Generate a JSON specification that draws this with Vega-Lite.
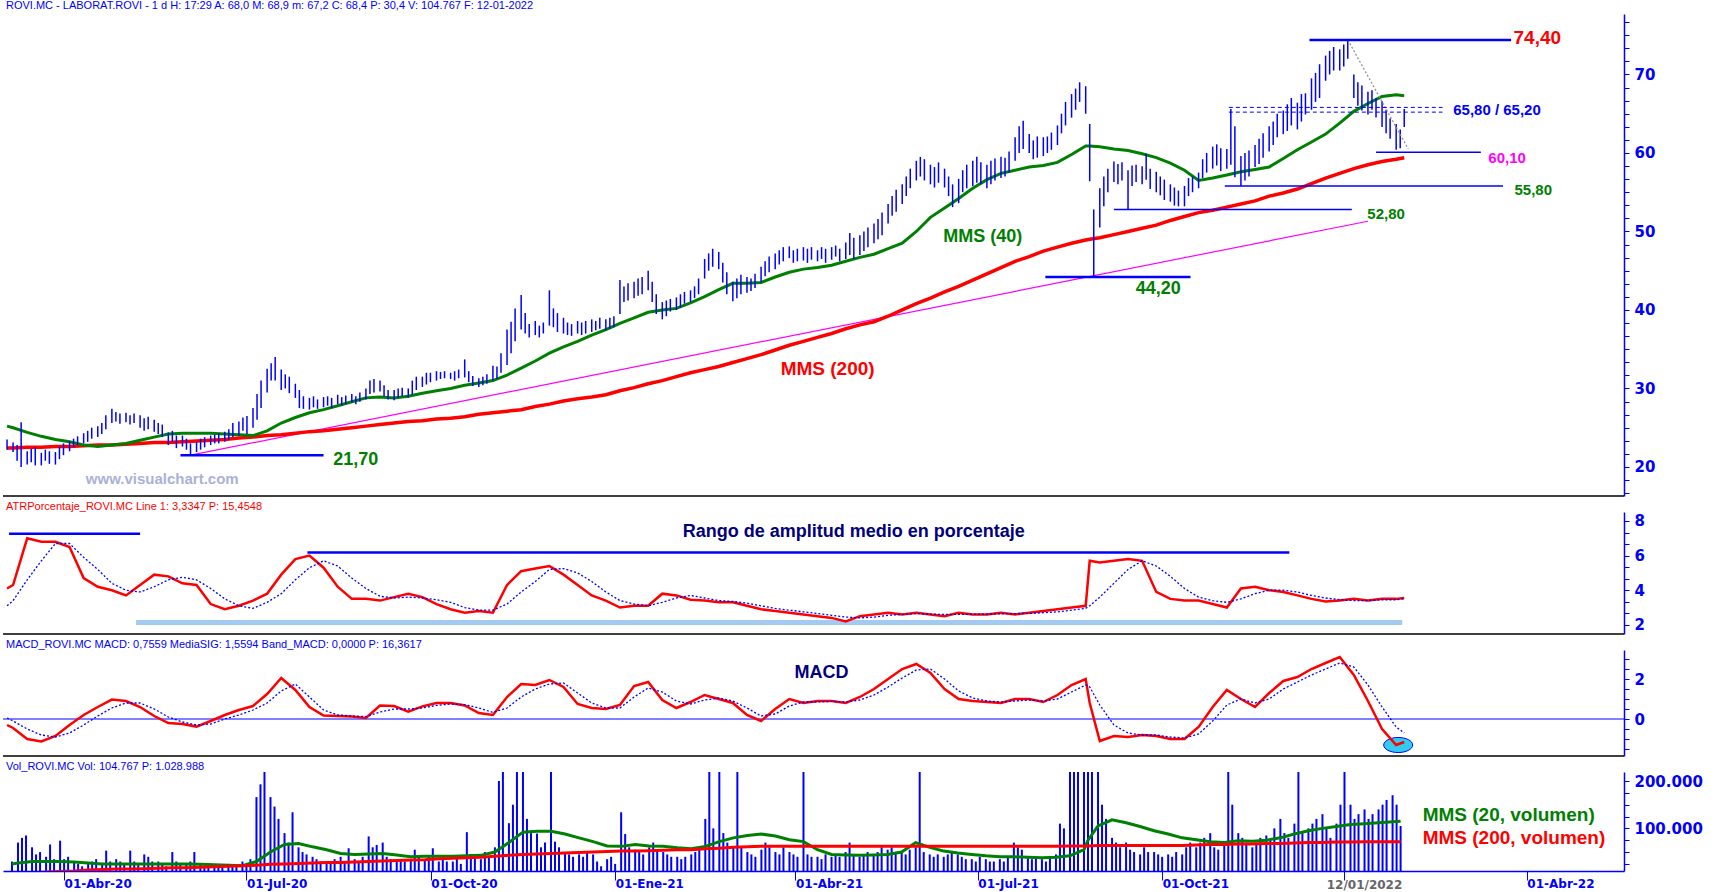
{
"$schema":"https://vega.github.io/schema/vega-lite/v6.json",
"padding":0,
"background":"white",
"spacing":16,
"bounds":"flush",
"config":{
 "view":{"stroke":null},
 "title":{"anchor":"start","font":"Liberation Sans Narrow, Liberation Sans","fontSize":11,"fontWeight":"normal","offset":3,"dx":3,"frame":"group"},
 "axisY":{"domainColor":"#0000ff","domainWidth":1.5,"tickColor":"#0000ff","tickSize":5,"labelColor":"#0000ff","labelFont":"DejaVu Sans","labelFontWeight":"bold","labelFontSize":15,"labelPadding":5,"grid":false,"labelFlush":false,"labelOverlap":false,"labelBaseline":"middle"}
},
"datasets":{
"px":[
{"d":"2020-03-06","h":23.5,"l":22.2,"v":30},
{"d":"2020-03-09","h":23.1,"l":21.9,"v":70},{"d":"2020-03-11","h":22.8,"l":20.8,"v":80},{"d":"2020-03-13","h":25.7,"l":20.0,"v":85},
{"d":"2020-03-16","h":22.0,"l":20.3,"v":60},{"d":"2020-03-18","h":22.3,"l":20.6,"v":45},{"d":"2020-03-20","h":22.5,"l":20.2,"v":50},
{"d":"2020-03-23","h":21.8,"l":20.2,"v":40},{"d":"2020-03-25","h":22.2,"l":20.8,"v":66},{"d":"2020-03-27","h":22.0,"l":20.4,"v":35},
{"d":"2020-03-30","h":21.9,"l":20.3,"v":74},{"d":"2020-04-01","h":22.6,"l":21.0,"v":35},{"d":"2020-04-03","h":23.0,"l":21.5,"v":40},
{"d":"2020-04-06","h":23.3,"l":22.0,"v":30},{"d":"2020-04-08","h":23.6,"l":22.5,"v":25},{"d":"2020-04-10","h":23.9,"l":22.8,"v":20},
{"d":"2020-04-13","h":24.3,"l":23.0,"v":25},{"d":"2020-04-15","h":24.6,"l":23.2,"v":30},{"d":"2020-04-17","h":25.0,"l":23.6,"v":35},
{"d":"2020-04-20","h":25.2,"l":23.8,"v":25},{"d":"2020-04-22","h":25.6,"l":24.2,"v":53},{"d":"2020-04-24","h":26.6,"l":24.8,"v":30},
{"d":"2020-04-27","h":27.4,"l":25.6,"v":35},{"d":"2020-04-29","h":27.0,"l":25.8,"v":30},{"d":"2020-05-01","h":26.8,"l":25.5,"v":25},
{"d":"2020-05-04","h":26.9,"l":25.7,"v":53},{"d":"2020-05-06","h":26.6,"l":25.4,"v":30},{"d":"2020-05-08","h":26.8,"l":25.6,"v":25},
{"d":"2020-05-11","h":26.6,"l":25.0,"v":45},{"d":"2020-05-13","h":26.2,"l":24.6,"v":40},{"d":"2020-05-15","h":26.4,"l":24.8,"v":30},
{"d":"2020-05-18","h":26.0,"l":24.5,"v":30},{"d":"2020-05-20","h":25.6,"l":24.2,"v":25},{"d":"2020-05-22","h":25.4,"l":23.8,"v":20},
{"d":"2020-05-25","h":24.4,"l":22.8,"v":50},{"d":"2020-05-27","h":24.6,"l":23.2,"v":30},{"d":"2020-05-29","h":24.0,"l":22.4,"v":25},
{"d":"2020-06-01","h":24.0,"l":22.6,"v":25},{"d":"2020-06-03","h":23.6,"l":22.2,"v":30},{"d":"2020-06-05","h":23.0,"l":21.6,"v":50},
{"d":"2020-06-08","h":23.2,"l":21.9,"v":25},{"d":"2020-06-10","h":23.6,"l":22.2,"v":20},{"d":"2020-06-12","h":23.8,"l":22.5,"v":20},
{"d":"2020-06-15","h":24.0,"l":22.8,"v":20},{"d":"2020-06-17","h":24.1,"l":23.0,"v":25},{"d":"2020-06-19","h":24.3,"l":23.0,"v":20},
{"d":"2020-06-22","h":24.5,"l":23.2,"v":25},{"d":"2020-06-24","h":24.8,"l":23.5,"v":20},{"d":"2020-06-26","h":25.6,"l":23.8,"v":20},
{"d":"2020-06-29","h":25.8,"l":24.0,"v":30},{"d":"2020-07-01","h":26.3,"l":24.6,"v":25},{"d":"2020-07-03","h":26.5,"l":24.2,"v":35},
{"d":"2020-07-06","h":27.5,"l":25.0,"v":166},{"d":"2020-07-08","h":29.3,"l":26.0,"v":193},{"d":"2020-07-10","h":31.0,"l":27.5,"v":230},
{"d":"2020-07-13","h":32.5,"l":29.5,"v":166},{"d":"2020-07-15","h":33.2,"l":31.0,"v":146},{"d":"2020-07-17","h":34.0,"l":31.0,"v":120},
{"d":"2020-07-20","h":32.4,"l":29.8,"v":90},{"d":"2020-07-22","h":31.8,"l":30.0,"v":70},{"d":"2020-07-24","h":31.5,"l":29.4,"v":134},
{"d":"2020-07-27","h":30.6,"l":28.8,"v":60},{"d":"2020-07-29","h":29.8,"l":27.5,"v":50},{"d":"2020-07-31","h":29.0,"l":27.4,"v":45},
{"d":"2020-08-03","h":28.8,"l":27.3,"v":40},{"d":"2020-08-05","h":29.0,"l":27.6,"v":35},{"d":"2020-08-07","h":28.6,"l":27.4,"v":30},
{"d":"2020-08-10","h":28.9,"l":27.6,"v":30},{"d":"2020-08-12","h":29.0,"l":27.8,"v":25},{"d":"2020-08-14","h":28.8,"l":27.5,"v":35},
{"d":"2020-08-17","h":29.2,"l":28.0,"v":40},{"d":"2020-08-19","h":28.9,"l":27.8,"v":30},{"d":"2020-08-21","h":29.1,"l":28.0,"v":58},
{"d":"2020-08-24","h":29.3,"l":28.2,"v":35},{"d":"2020-08-26","h":29.0,"l":28.0,"v":30},{"d":"2020-08-28","h":29.5,"l":28.3,"v":40},
{"d":"2020-08-31","h":30.0,"l":28.6,"v":83},{"d":"2020-09-02","h":31.0,"l":29.3,"v":60},{"d":"2020-09-04","h":31.2,"l":29.5,"v":65},
{"d":"2020-09-07","h":31.0,"l":29.6,"v":70},{"d":"2020-09-09","h":30.4,"l":29.0,"v":40},{"d":"2020-09-11","h":29.8,"l":28.6,"v":35},
{"d":"2020-09-14","h":29.8,"l":28.5,"v":30},{"d":"2020-09-16","h":30.0,"l":28.8,"v":35},{"d":"2020-09-18","h":30.1,"l":29.0,"v":30},
{"d":"2020-09-21","h":30.0,"l":28.8,"v":35},{"d":"2020-09-23","h":31.0,"l":29.2,"v":55},{"d":"2020-09-25","h":31.5,"l":29.8,"v":40},
{"d":"2020-09-28","h":31.5,"l":30.2,"v":35},{"d":"2020-09-30","h":32.0,"l":30.5,"v":40},{"d":"2020-10-02","h":32.0,"l":30.8,"v":58},
{"d":"2020-10-05","h":32.2,"l":31.0,"v":30},{"d":"2020-10-07","h":32.1,"l":31.2,"v":35},{"d":"2020-10-09","h":32.2,"l":31.3,"v":30},
{"d":"2020-10-12","h":32.0,"l":31.2,"v":30},{"d":"2020-10-14","h":32.2,"l":31.0,"v":40},{"d":"2020-10-16","h":32.4,"l":31.3,"v":25},
{"d":"2020-10-19","h":33.7,"l":31.4,"v":92},{"d":"2020-10-21","h":32.2,"l":30.8,"v":45},{"d":"2020-10-23","h":31.6,"l":30.3,"v":40},
{"d":"2020-10-26","h":31.3,"l":30.2,"v":35},{"d":"2020-10-28","h":31.5,"l":30.4,"v":50},{"d":"2020-10-30","h":31.8,"l":30.6,"v":40},
{"d":"2020-11-02","h":32.9,"l":31.0,"v":60},{"d":"2020-11-04","h":32.8,"l":31.2,"v":200},{"d":"2020-11-06","h":34.5,"l":32.0,"v":219},
{"d":"2020-11-09","h":37.5,"l":33.0,"v":111},{"d":"2020-11-11","h":38.5,"l":34.5,"v":150},{"d":"2020-11-13","h":40.2,"l":36.0,"v":230},
{"d":"2020-11-16","h":41.9,"l":37.5,"v":230},{"d":"2020-11-18","h":39.6,"l":37.0,"v":120},{"d":"2020-11-20","h":38.2,"l":36.5,"v":90},
{"d":"2020-11-23","h":38.6,"l":36.8,"v":89},{"d":"2020-11-25","h":38.0,"l":36.5,"v":60},{"d":"2020-11-27","h":38.4,"l":37.0,"v":70},
{"d":"2020-11-30","h":42.5,"l":38.0,"v":230},{"d":"2020-12-02","h":40.2,"l":37.8,"v":72},{"d":"2020-12-04","h":39.6,"l":37.2,"v":60},
{"d":"2020-12-07","h":39.0,"l":37.0,"v":50},{"d":"2020-12-09","h":38.4,"l":36.8,"v":45},{"d":"2020-12-11","h":38.2,"l":36.7,"v":40},
{"d":"2020-12-14","h":38.6,"l":37.0,"v":45},{"d":"2020-12-16","h":38.4,"l":36.8,"v":40},{"d":"2020-12-18","h":38.6,"l":37.0,"v":50},
{"d":"2020-12-21","h":38.8,"l":37.2,"v":45},{"d":"2020-12-23","h":38.6,"l":37.4,"v":30},{"d":"2020-12-25","h":39.0,"l":37.6,"v":20},
{"d":"2020-12-28","h":38.8,"l":37.4,"v":35},{"d":"2020-12-30","h":39.0,"l":37.6,"v":40},{"d":"2021-01-01","h":39.2,"l":37.8,"v":25},
{"d":"2021-01-04","h":43.8,"l":39.5,"v":134},{"d":"2021-01-06","h":43.0,"l":41.0,"v":88},{"d":"2021-01-08","h":43.4,"l":41.2,"v":60},
{"d":"2021-01-11","h":43.6,"l":41.5,"v":55},{"d":"2021-01-13","h":44.0,"l":41.8,"v":50},{"d":"2021-01-15","h":44.2,"l":42.0,"v":45},
{"d":"2021-01-18","h":45.0,"l":42.5,"v":60},{"d":"2021-01-20","h":43.6,"l":41.0,"v":70},{"d":"2021-01-22","h":42.0,"l":39.5,"v":55},
{"d":"2021-01-25","h":41.0,"l":38.8,"v":50},{"d":"2021-01-27","h":41.2,"l":39.2,"v":45},{"d":"2021-01-29","h":41.4,"l":39.8,"v":40},
{"d":"2021-02-01","h":41.6,"l":40.0,"v":40},{"d":"2021-02-03","h":42.0,"l":40.3,"v":35},{"d":"2021-02-05","h":42.3,"l":40.8,"v":40},
{"d":"2021-02-08","h":42.5,"l":41.0,"v":45},{"d":"2021-02-10","h":43.0,"l":41.5,"v":50},{"d":"2021-02-12","h":44.0,"l":42.0,"v":60},
{"d":"2021-02-15","h":46.5,"l":44.0,"v":120},{"d":"2021-02-17","h":47.2,"l":45.0,"v":230},{"d":"2021-02-19","h":47.8,"l":45.5,"v":100},
{"d":"2021-02-22","h":47.4,"l":45.2,"v":230},{"d":"2021-02-24","h":46.0,"l":43.5,"v":90},{"d":"2021-02-26","h":44.8,"l":42.0,"v":70},
{"d":"2021-03-01","h":43.6,"l":41.1,"v":60},{"d":"2021-03-03","h":44.0,"l":41.5,"v":230},{"d":"2021-03-05","h":44.5,"l":42.0,"v":60},
{"d":"2021-03-08","h":44.2,"l":42.2,"v":50},{"d":"2021-03-10","h":44.0,"l":42.4,"v":45},{"d":"2021-03-12","h":44.6,"l":42.8,"v":40},
{"d":"2021-03-15","h":45.5,"l":43.5,"v":55},{"d":"2021-03-17","h":46.2,"l":44.3,"v":70},{"d":"2021-03-19","h":46.8,"l":44.8,"v":60},
{"d":"2021-03-22","h":47.2,"l":45.2,"v":50},{"d":"2021-03-24","h":47.6,"l":45.8,"v":45},{"d":"2021-03-26","h":48.0,"l":46.2,"v":60},
{"d":"2021-03-29","h":48.1,"l":46.6,"v":50},{"d":"2021-03-31","h":47.6,"l":46.0,"v":45},{"d":"2021-04-02","h":47.8,"l":46.2,"v":40},
{"d":"2021-04-05","h":48.0,"l":46.3,"v":230},{"d":"2021-04-07","h":47.8,"l":46.0,"v":45},{"d":"2021-04-09","h":48.0,"l":46.4,"v":40},
{"d":"2021-04-12","h":47.6,"l":46.2,"v":40},{"d":"2021-04-14","h":48.0,"l":46.5,"v":35},{"d":"2021-04-16","h":47.8,"l":46.0,"v":45},
{"d":"2021-04-19","h":48.0,"l":46.4,"v":40},{"d":"2021-04-21","h":48.2,"l":46.8,"v":45},{"d":"2021-04-23","h":47.8,"l":46.2,"v":40},
{"d":"2021-04-26","h":48.6,"l":46.5,"v":50},{"d":"2021-04-28","h":49.8,"l":47.0,"v":70},{"d":"2021-04-30","h":49.2,"l":46.5,"v":45},
{"d":"2021-05-03","h":49.5,"l":47.0,"v":40},{"d":"2021-05-05","h":50.0,"l":47.5,"v":45},{"d":"2021-05-07","h":50.5,"l":48.0,"v":50},
{"d":"2021-05-10","h":51.0,"l":48.5,"v":45},{"d":"2021-05-12","h":51.6,"l":49.0,"v":50},{"d":"2021-05-14","h":52.4,"l":49.5,"v":60},
{"d":"2021-05-17","h":53.5,"l":51.0,"v":55},{"d":"2021-05-19","h":54.5,"l":52.0,"v":60},{"d":"2021-05-21","h":55.3,"l":52.5,"v":50},
{"d":"2021-05-24","h":56.0,"l":53.5,"v":50},{"d":"2021-05-26","h":57.0,"l":54.5,"v":45},{"d":"2021-05-28","h":58.0,"l":55.5,"v":55},
{"d":"2021-05-31","h":59.0,"l":56.5,"v":60},{"d":"2021-06-02","h":59.5,"l":57.0,"v":230},{"d":"2021-06-04","h":59.2,"l":56.5,"v":50},
{"d":"2021-06-07","h":58.5,"l":56.0,"v":45},{"d":"2021-06-09","h":58.2,"l":55.6,"v":40},{"d":"2021-06-11","h":58.8,"l":56.2,"v":45},
{"d":"2021-06-14","h":58.0,"l":55.6,"v":40},{"d":"2021-06-16","h":57.0,"l":54.5,"v":45},{"d":"2021-06-18","h":56.0,"l":53.1,"v":50},
{"d":"2021-06-21","h":56.7,"l":53.6,"v":45},{"d":"2021-06-23","h":57.8,"l":55.0,"v":40},{"d":"2021-06-25","h":58.5,"l":55.5,"v":35},
{"d":"2021-06-28","h":59.0,"l":55.8,"v":35},{"d":"2021-06-30","h":59.5,"l":56.2,"v":30},{"d":"2021-07-02","h":58.8,"l":56.0,"v":40},
{"d":"2021-07-05","h":58.5,"l":55.5,"v":35},{"d":"2021-07-07","h":59.0,"l":56.0,"v":30},{"d":"2021-07-09","h":59.3,"l":56.5,"v":30},
{"d":"2021-07-12","h":59.5,"l":56.8,"v":35},{"d":"2021-07-14","h":59.4,"l":57.0,"v":30},{"d":"2021-07-16","h":60.2,"l":57.5,"v":40},
{"d":"2021-07-19","h":62.0,"l":59.0,"v":70},{"d":"2021-07-21","h":63.4,"l":60.0,"v":60},{"d":"2021-07-23","h":64.1,"l":60.5,"v":55},
{"d":"2021-07-26","h":62.4,"l":60.0,"v":40},{"d":"2021-07-28","h":61.6,"l":59.2,"v":35},{"d":"2021-07-30","h":62.1,"l":59.4,"v":40},
{"d":"2021-08-02","h":62.0,"l":59.6,"v":35},{"d":"2021-08-04","h":62.1,"l":60.0,"v":30},{"d":"2021-08-06","h":62.6,"l":60.4,"v":40},
{"d":"2021-08-09","h":63.5,"l":61.0,"v":45},{"d":"2021-08-11","h":65.0,"l":62.5,"v":110},{"d":"2021-08-13","h":66.5,"l":63.5,"v":100},
{"d":"2021-08-16","h":67.5,"l":64.5,"v":230},{"d":"2021-08-18","h":68.2,"l":65.5,"v":230},{"d":"2021-08-20","h":69.0,"l":66.5,"v":230},
{"d":"2021-08-23","h":68.5,"l":65.0,"v":230},{"d":"2021-08-25","h":63.7,"l":56.4,"v":230},{"d":"2021-08-27","h":52.8,"l":44.2,"v":230},
{"d":"2021-08-30","h":55.5,"l":50.5,"v":230},{"d":"2021-09-01","h":57.0,"l":53.2,"v":150},{"d":"2021-09-03","h":58.0,"l":55.0,"v":120},
{"d":"2021-09-06","h":58.9,"l":56.3,"v":80},{"d":"2021-09-08","h":58.6,"l":56.0,"v":70},{"d":"2021-09-10","h":58.8,"l":56.5,"v":60},
{"d":"2021-09-13","h":57.8,"l":52.8,"v":70},{"d":"2021-09-15","h":58.4,"l":55.8,"v":55},{"d":"2021-09-17","h":58.5,"l":56.3,"v":50},
{"d":"2021-09-20","h":58.3,"l":56.0,"v":45},{"d":"2021-09-22","h":59.9,"l":56.6,"v":60},{"d":"2021-09-24","h":58.0,"l":55.4,"v":50},
{"d":"2021-09-27","h":57.6,"l":55.0,"v":50},{"d":"2021-09-29","h":57.0,"l":54.6,"v":45},{"d":"2021-10-01","h":56.6,"l":54.0,"v":40},
{"d":"2021-10-04","h":56.0,"l":53.8,"v":45},{"d":"2021-10-06","h":55.6,"l":53.3,"v":40},{"d":"2021-10-08","h":55.2,"l":53.2,"v":50},
{"d":"2021-10-11","h":55.8,"l":53.2,"v":45},{"d":"2021-10-13","h":56.8,"l":54.5,"v":60},{"d":"2021-10-15","h":57.0,"l":55.0,"v":70},
{"d":"2021-10-18","h":57.5,"l":55.5,"v":60},{"d":"2021-10-20","h":59.2,"l":56.8,"v":70},{"d":"2021-10-22","h":60.0,"l":57.5,"v":80},
{"d":"2021-10-25","h":60.8,"l":58.0,"v":90},{"d":"2021-10-27","h":61.1,"l":58.4,"v":60},{"d":"2021-10-29","h":60.6,"l":57.7,"v":55},
{"d":"2021-11-01","h":60.5,"l":58.0,"v":70},{"d":"2021-11-03","h":65.6,"l":58.5,"v":230},{"d":"2021-11-05","h":63.4,"l":56.9,"v":150},
{"d":"2021-11-08","h":59.6,"l":55.8,"v":90},{"d":"2021-11-10","h":60.0,"l":56.5,"v":80},{"d":"2021-11-12","h":60.3,"l":57.0,"v":70},
{"d":"2021-11-15","h":61.0,"l":58.2,"v":60},{"d":"2021-11-17","h":61.8,"l":58.6,"v":70},{"d":"2021-11-19","h":62.5,"l":59.4,"v":80},
{"d":"2021-11-22","h":63.4,"l":60.2,"v":85},{"d":"2021-11-24","h":64.0,"l":61.0,"v":75},{"d":"2021-11-26","h":65.0,"l":62.0,"v":100},
{"d":"2021-11-29","h":65.4,"l":62.4,"v":120},{"d":"2021-12-01","h":66.2,"l":62.8,"v":90},{"d":"2021-12-03","h":67.0,"l":63.5,"v":80},
{"d":"2021-12-06","h":66.4,"l":63.0,"v":110},{"d":"2021-12-08","h":67.5,"l":64.0,"v":230},{"d":"2021-12-10","h":67.6,"l":64.9,"v":90},
{"d":"2021-12-13","h":69.5,"l":65.5,"v":100},{"d":"2021-12-15","h":70.2,"l":66.5,"v":110},{"d":"2021-12-17","h":71.3,"l":67.0,"v":120},
{"d":"2021-12-20","h":72.4,"l":69.2,"v":130},{"d":"2021-12-22","h":73.0,"l":70.0,"v":100},{"d":"2021-12-24","h":73.5,"l":70.5,"v":80},
{"d":"2021-12-27","h":73.2,"l":70.5,"v":110},{"d":"2021-12-29","h":73.8,"l":71.0,"v":150},{"d":"2021-12-31","h":74.4,"l":72.0,"v":230},
{"d":"2022-01-03","h":70.0,"l":67.0,"v":150},{"d":"2022-01-05","h":69.0,"l":66.0,"v":120},{"d":"2022-01-07","h":68.6,"l":65.4,"v":130},
{"d":"2022-01-10","h":67.8,"l":64.9,"v":140},{"d":"2022-01-12","h":68.0,"l":65.5,"v":120},{"d":"2022-01-14","h":67.0,"l":64.5,"v":130},
{"d":"2022-01-17","h":66.6,"l":63.3,"v":140},{"d":"2022-01-19","h":65.5,"l":62.5,"v":150},{"d":"2022-01-21","h":64.4,"l":61.8,"v":160},
{"d":"2022-01-24","h":63.7,"l":60.4,"v":170},{"d":"2022-01-26","h":63.0,"l":60.6,"v":150},{"d":"2022-01-28","h":65.6,"l":63.3,"v":105}
],
"ind":[
{"d":"2020-03-06","a40":25.2,"a200":22.4,"at":4.1,"as":3.1,"mc":-0.3,"sg":0.05,"v20":25,"v200":4},
{"d":"2020-03-09","a40":25.0,"a200":22.4,"at":4.3,"as":3.4,"mc":-0.45,"sg":-0.1,"v20":27,"v200":5},
{"d":"2020-03-16","a40":24.4,"a200":22.5,"at":7.0,"as":4.6,"mc":-1.0,"sg":-0.5,"v20":30,"v200":6},
{"d":"2020-03-23","a40":23.9,"a200":22.5,"at":6.8,"as":5.7,"mc":-1.12,"sg":-0.8,"v20":30,"v200":8},
{"d":"2020-03-30","a40":23.5,"a200":22.6,"at":6.8,"as":6.7,"mc":-0.85,"sg":-0.9,"v20":30,"v200":9},
{"d":"2020-04-06","a40":23.2,"a200":22.6,"at":6.5,"as":6.7,"mc":-0.3,"sg":-0.7,"v20":29,"v200":10},
{"d":"2020-04-13","a40":22.8,"a200":22.7,"at":4.7,"as":5.9,"mc":0.2,"sg":-0.3,"v20":27,"v200":12},
{"d":"2020-04-20","a40":22.6,"a200":22.8,"at":4.2,"as":5.2,"mc":0.6,"sg":0.15,"v20":25,"v200":13},
{"d":"2020-04-27","a40":22.8,"a200":22.8,"at":4.0,"as":4.4,"mc":0.97,"sg":0.55,"v20":25,"v200":14},
{"d":"2020-05-04","a40":23.0,"a200":22.9,"at":3.7,"as":4.0,"mc":0.9,"sg":0.8,"v20":25,"v200":14},
{"d":"2020-05-11","a40":23.4,"a200":23.0,"at":4.3,"as":3.9,"mc":0.6,"sg":0.8,"v20":25,"v200":15},
{"d":"2020-05-18","a40":23.8,"a200":23.1,"at":4.9,"as":4.2,"mc":0.15,"sg":0.5,"v20":25,"v200":16},
{"d":"2020-05-25","a40":24.2,"a200":23.1,"at":4.8,"as":4.6,"mc":-0.2,"sg":0.1,"v20":25,"v200":17},
{"d":"2020-06-01","a40":24.3,"a200":23.2,"at":4.4,"as":4.75,"mc":-0.25,"sg":-0.15,"v20":25,"v200":17},
{"d":"2020-06-08","a40":24.3,"a200":23.3,"at":4.3,"as":4.6,"mc":-0.38,"sg":-0.3,"v20":24,"v200":18},
{"d":"2020-06-15","a40":24.3,"a200":23.4,"at":3.2,"as":4.1,"mc":-0.1,"sg":-0.25,"v20":23,"v200":19},
{"d":"2020-06-22","a40":24.2,"a200":23.5,"at":2.9,"as":3.5,"mc":0.2,"sg":0.0,"v20":22,"v200":20},
{"d":"2020-06-29","a40":24.1,"a200":23.7,"at":3.1,"as":3.1,"mc":0.45,"sg":0.2,"v20":21,"v200":21},
{"d":"2020-07-06","a40":24.0,"a200":23.8,"at":3.4,"as":2.95,"mc":0.65,"sg":0.45,"v20":30,"v200":22},
{"d":"2020-07-13","a40":24.6,"a200":24.0,"at":3.8,"as":3.3,"mc":1.25,"sg":0.8,"v20":50,"v200":24},
{"d":"2020-07-20","a40":25.6,"a200":24.1,"at":4.9,"as":3.8,"mc":2.05,"sg":1.4,"v20":66,"v200":25},
{"d":"2020-07-27","a40":26.3,"a200":24.3,"at":5.8,"as":4.6,"mc":1.45,"sg":1.75,"v20":68,"v200":26},
{"d":"2020-08-03","a40":26.9,"a200":24.5,"at":6.0,"as":5.3,"mc":0.6,"sg":1.1,"v20":61,"v200":27},
{"d":"2020-08-10","a40":27.3,"a200":24.6,"at":5.3,"as":5.7,"mc":0.17,"sg":0.45,"v20":55,"v200":28},
{"d":"2020-08-17","a40":27.8,"a200":24.8,"at":4.2,"as":5.4,"mc":0.15,"sg":0.2,"v20":47,"v200":28},
{"d":"2020-08-24","a40":28.3,"a200":25.0,"at":3.5,"as":4.7,"mc":0.12,"sg":0.15,"v20":45,"v200":29},
{"d":"2020-08-31","a40":28.8,"a200":25.2,"at":3.5,"as":4.1,"mc":0.05,"sg":0.12,"v20":46,"v200":30},
{"d":"2020-09-07","a40":28.9,"a200":25.4,"at":3.4,"as":3.65,"mc":0.67,"sg":0.35,"v20":47,"v200":31},
{"d":"2020-09-14","a40":28.8,"a200":25.6,"at":3.6,"as":3.55,"mc":0.65,"sg":0.5,"v20":44,"v200":32},
{"d":"2020-09-21","a40":29.0,"a200":25.8,"at":3.8,"as":3.6,"mc":0.37,"sg":0.5,"v20":40,"v200":33},
{"d":"2020-09-28","a40":29.4,"a200":25.9,"at":3.6,"as":3.55,"mc":0.63,"sg":0.55,"v20":41,"v200":34},
{"d":"2020-10-05","a40":29.7,"a200":26.1,"at":3.2,"as":3.45,"mc":0.8,"sg":0.68,"v20":41,"v200":36},
{"d":"2020-10-12","a40":30.0,"a200":26.2,"at":2.9,"as":3.3,"mc":0.8,"sg":0.75,"v20":41,"v200":37},
{"d":"2020-10-19","a40":30.4,"a200":26.4,"at":2.7,"as":3.0,"mc":0.68,"sg":0.72,"v20":42,"v200":38},
{"d":"2020-10-26","a40":30.7,"a200":26.7,"at":2.8,"as":2.85,"mc":0.3,"sg":0.55,"v20":43,"v200":39},
{"d":"2020-11-02","a40":31.0,"a200":26.9,"at":2.7,"as":2.85,"mc":0.2,"sg":0.33,"v20":50,"v200":41},
{"d":"2020-11-09","a40":31.7,"a200":27.1,"at":4.3,"as":3.2,"mc":1.1,"sg":0.55,"v20":70,"v200":43},
{"d":"2020-11-16","a40":32.6,"a200":27.3,"at":5.1,"as":3.9,"mc":1.75,"sg":1.1,"v20":92,"v200":45},
{"d":"2020-11-23","a40":33.5,"a200":27.7,"at":5.25,"as":4.5,"mc":1.7,"sg":1.5,"v20":94,"v200":46},
{"d":"2020-11-30","a40":34.5,"a200":28.0,"at":5.4,"as":5.2,"mc":1.95,"sg":1.75,"v20":94,"v200":47},
{"d":"2020-12-07","a40":35.3,"a200":28.4,"at":4.9,"as":5.25,"mc":1.6,"sg":1.8,"v20":88,"v200":48},
{"d":"2020-12-14","a40":36.0,"a200":28.7,"at":4.3,"as":5.0,"mc":0.75,"sg":1.3,"v20":80,"v200":49},
{"d":"2020-12-21","a40":36.8,"a200":28.9,"at":3.7,"as":4.5,"mc":0.55,"sg":0.8,"v20":72,"v200":50},
{"d":"2020-12-28","a40":37.5,"a200":29.2,"at":3.4,"as":3.9,"mc":0.5,"sg":0.55,"v20":63,"v200":51},
{"d":"2021-01-04","a40":38.3,"a200":29.7,"at":3.0,"as":3.4,"mc":0.7,"sg":0.55,"v20":62,"v200":52},
{"d":"2021-01-11","a40":39.0,"a200":30.1,"at":3.1,"as":3.2,"mc":1.65,"sg":1.1,"v20":66,"v200":52},
{"d":"2021-01-18","a40":39.7,"a200":30.6,"at":3.1,"as":3.1,"mc":1.85,"sg":1.55,"v20":63,"v200":53},
{"d":"2021-01-25","a40":40.0,"a200":31.0,"at":3.8,"as":3.3,"mc":0.95,"sg":1.35,"v20":62,"v200":54},
{"d":"2021-02-01","a40":40.2,"a200":31.5,"at":3.7,"as":3.55,"mc":0.55,"sg":0.9,"v20":59,"v200":55},
{"d":"2021-02-08","a40":40.9,"a200":32.0,"at":3.45,"as":3.7,"mc":0.85,"sg":0.75,"v20":57,"v200":55},
{"d":"2021-02-15","a40":41.7,"a200":32.4,"at":3.4,"as":3.55,"mc":1.2,"sg":0.95,"v20":62,"v200":57},
{"d":"2021-02-22","a40":42.6,"a200":32.8,"at":3.3,"as":3.4,"mc":1.0,"sg":1.05,"v20":72,"v200":58},
{"d":"2021-03-01","a40":43.4,"a200":33.3,"at":3.3,"as":3.35,"mc":0.8,"sg":0.9,"v20":80,"v200":60},
{"d":"2021-03-08","a40":43.4,"a200":33.8,"at":3.1,"as":3.25,"mc":0.2,"sg":0.55,"v20":85,"v200":61},
{"d":"2021-03-15","a40":43.5,"a200":34.3,"at":2.9,"as":3.1,"mc":-0.1,"sg":0.15,"v20":88,"v200":62},
{"d":"2021-03-22","a40":44.2,"a200":34.9,"at":2.8,"as":2.95,"mc":0.5,"sg":0.25,"v20":84,"v200":62},
{"d":"2021-03-29","a40":44.8,"a200":35.5,"at":2.7,"as":2.85,"mc":1.0,"sg":0.65,"v20":76,"v200":62},
{"d":"2021-04-05","a40":45.2,"a200":36.0,"at":2.6,"as":2.75,"mc":0.8,"sg":0.85,"v20":72,"v200":62},
{"d":"2021-04-12","a40":45.4,"a200":36.5,"at":2.5,"as":2.65,"mc":0.9,"sg":0.85,"v20":55,"v200":62},
{"d":"2021-04-19","a40":45.7,"a200":37.0,"at":2.4,"as":2.55,"mc":0.9,"sg":0.88,"v20":45,"v200":62},
{"d":"2021-04-26","a40":46.2,"a200":37.6,"at":2.2,"as":2.45,"mc":0.8,"sg":0.85,"v20":44,"v200":62},
{"d":"2021-05-03","a40":46.7,"a200":38.1,"at":2.5,"as":2.4,"mc":1.1,"sg":0.95,"v20":43,"v200":62},
{"d":"2021-05-10","a40":47.1,"a200":38.5,"at":2.6,"as":2.45,"mc":1.5,"sg":1.2,"v20":44,"v200":62},
{"d":"2021-05-17","a40":47.8,"a200":39.2,"at":2.7,"as":2.55,"mc":2.0,"sg":1.6,"v20":45,"v200":62},
{"d":"2021-05-24","a40":48.5,"a200":40.0,"at":2.6,"as":2.6,"mc":2.5,"sg":2.05,"v20":50,"v200":62},
{"d":"2021-05-31","a40":50.0,"a200":40.8,"at":2.7,"as":2.65,"mc":2.75,"sg":2.45,"v20":70,"v200":62},
{"d":"2021-06-07","a40":51.8,"a200":41.5,"at":2.6,"as":2.62,"mc":2.3,"sg":2.5,"v20":60,"v200":62},
{"d":"2021-06-14","a40":53.0,"a200":42.3,"at":2.5,"as":2.6,"mc":1.5,"sg":2.0,"v20":52,"v200":62},
{"d":"2021-06-21","a40":54.2,"a200":43.0,"at":2.7,"as":2.6,"mc":1.0,"sg":1.4,"v20":48,"v200":62},
{"d":"2021-06-28","a40":55.5,"a200":43.8,"at":2.6,"as":2.62,"mc":0.9,"sg":1.05,"v20":45,"v200":62},
{"d":"2021-07-05","a40":56.6,"a200":44.6,"at":2.6,"as":2.62,"mc":0.85,"sg":0.9,"v20":42,"v200":62},
{"d":"2021-07-12","a40":57.4,"a200":45.4,"at":2.7,"as":2.64,"mc":0.8,"sg":0.85,"v20":40,"v200":62},
{"d":"2021-07-19","a40":57.8,"a200":46.2,"at":2.6,"as":2.65,"mc":1.0,"sg":0.9,"v20":40,"v200":62},
{"d":"2021-07-26","a40":58.2,"a200":46.8,"at":2.7,"as":2.66,"mc":1.0,"sg":0.95,"v20":39,"v200":62},
{"d":"2021-08-02","a40":58.4,"a200":47.5,"at":2.8,"as":2.7,"mc":0.85,"sg":0.9,"v20":38,"v200":62},
{"d":"2021-08-09","a40":58.8,"a200":48.0,"at":2.9,"as":2.75,"mc":1.2,"sg":1.0,"v20":39,"v200":62},
{"d":"2021-08-16","a40":59.8,"a200":48.5,"at":3.0,"as":2.85,"mc":1.7,"sg":1.35,"v20":42,"v200":63},
{"d":"2021-08-23","a40":60.9,"a200":48.9,"at":3.1,"as":2.95,"mc":2.0,"sg":1.7,"v20":55,"v200":63},
{"d":"2021-08-25","a40":60.9,"a200":49.0,"at":5.7,"as":3.1,"mc":0.8,"sg":1.6,"v20":75,"v200":63},
{"d":"2021-08-30","a40":60.8,"a200":49.2,"at":5.6,"as":3.6,"mc":-1.1,"sg":0.7,"v20":105,"v200":64},
{"d":"2021-09-06","a40":60.5,"a200":49.6,"at":5.7,"as":4.4,"mc":-0.85,"sg":-0.3,"v20":118,"v200":64},
{"d":"2021-09-13","a40":60.3,"a200":50.0,"at":5.8,"as":5.2,"mc":-0.9,"sg":-0.7,"v20":112,"v200":64},
{"d":"2021-09-20","a40":59.9,"a200":50.4,"at":5.7,"as":5.7,"mc":-0.8,"sg":-0.8,"v20":104,"v200":64},
{"d":"2021-09-27","a40":59.4,"a200":50.8,"at":3.9,"as":5.4,"mc":-0.85,"sg":-0.8,"v20":95,"v200":64},
{"d":"2021-10-04","a40":58.7,"a200":51.4,"at":3.5,"as":4.8,"mc":-1.0,"sg":-0.9,"v20":88,"v200":64},
{"d":"2021-10-11","a40":57.8,"a200":51.9,"at":3.4,"as":4.1,"mc":-1.0,"sg":-0.95,"v20":80,"v200":64},
{"d":"2021-10-18","a40":56.5,"a200":52.4,"at":3.4,"as":3.6,"mc":-0.4,"sg":-0.75,"v20":76,"v200":65},
{"d":"2021-10-25","a40":56.8,"a200":52.7,"at":3.2,"as":3.4,"mc":0.6,"sg":-0.1,"v20":72,"v200":66},
{"d":"2021-11-01","a40":57.2,"a200":53.1,"at":3.0,"as":3.3,"mc":1.45,"sg":0.7,"v20":70,"v200":66},
{"d":"2021-11-08","a40":57.6,"a200":53.5,"at":4.1,"as":3.5,"mc":1.0,"sg":1.0,"v20":74,"v200":67},
{"d":"2021-11-15","a40":57.9,"a200":53.9,"at":4.2,"as":3.8,"mc":0.6,"sg":0.8,"v20":73,"v200":67},
{"d":"2021-11-22","a40":58.2,"a200":54.5,"at":4.0,"as":4.0,"mc":1.3,"sg":1.0,"v20":75,"v200":68},
{"d":"2021-11-29","a40":59.3,"a200":54.9,"at":3.9,"as":4.0,"mc":1.9,"sg":1.5,"v20":80,"v200":68},
{"d":"2021-12-06","a40":60.4,"a200":55.4,"at":3.7,"as":3.9,"mc":2.1,"sg":1.85,"v20":88,"v200":69},
{"d":"2021-12-13","a40":61.4,"a200":56.1,"at":3.5,"as":3.7,"mc":2.5,"sg":2.2,"v20":95,"v200":70},
{"d":"2021-12-20","a40":62.4,"a200":56.8,"at":3.35,"as":3.55,"mc":2.8,"sg":2.5,"v20":100,"v200":70},
{"d":"2021-12-27","a40":63.8,"a200":57.4,"at":3.4,"as":3.45,"mc":3.1,"sg":2.8,"v20":104,"v200":71},
{"d":"2022-01-03","a40":65.3,"a200":58.0,"at":3.5,"as":3.4,"mc":2.2,"sg":2.6,"v20":108,"v200":71},
{"d":"2022-01-10","a40":66.3,"a200":58.5,"at":3.4,"as":3.4,"mc":0.9,"sg":1.7,"v20":110,"v200":72},
{"d":"2022-01-17","a40":67.2,"a200":58.9,"at":3.5,"as":3.45,"mc":-0.5,"sg":0.6,"v20":112,"v200":72},
{"d":"2022-01-24","a40":67.4,"a200":59.2,"at":3.5,"as":3.45,"mc":-1.3,"sg":-0.4,"v20":114,"v200":72},
{"d":"2022-01-28","a40":67.3,"a200":59.4,"at":3.55,"as":3.5,"mc":-1.15,"sg":-0.7,"v20":115,"v200":72}
],
"hl":[
{"p":"p","k":"thick","d":"2020-05-31","d2":"2020-08-10","y":21.5},
{"p":"p","k":"thick","d":"2021-08-03","d2":"2021-10-14","y":44.2},
{"p":"p","k":"thick","d":"2021-12-12","d2":"2022-03-22","y":74.4},
{"p":"p","k":"thin","d":"2021-09-06","d2":"2022-01-02","y":52.8},
{"p":"p","k":"thin","d":"2021-10-31","d2":"2022-03-18","y":55.8},
{"p":"p","k":"thin","d":"2022-01-14","d2":"2022-03-07","y":60.1},
{"p":"p","k":"dash","d":"2021-11-02","d2":"2022-02-16","y":65.8},
{"p":"p","k":"dash","d":"2021-11-02","d2":"2022-02-16","y":65.2},
{"p":"p","k":"sep","d":"2020-03-04","d2":"2022-05-17","y":16.3},
{"p":"a","k":"a2","d":"2020-03-07","d2":"2020-05-11","y":7.27},
{"p":"a","k":"a2","d":"2020-08-02","d2":"2021-12-02","y":6.18},
{"p":"a","k":"band","d":"2020-05-09","d2":"2022-01-27","y":2.14},
{"p":"a","k":"sep","d":"2020-03-04","d2":"2022-05-17","y":1.47},
{"p":"m","k":"zero","d":"2020-03-04","d2":"2022-05-17","y":0},
{"p":"m","k":"sep","d":"2020-03-04","d2":"2022-05-17","y":-1.85}
],
"dg":[
{"k":"mag","d":"2020-06-05","y":21.5,"d2":"2022-01-10","y2":51.3},
{"k":"grey","d":"2021-12-31","y":74.4,"d2":"2022-01-30","y2":60.5}
],
"tx":[
{"p":"p","k":"gb","d":"2020-08-26","y":20.9,"t":"21,70"},
{"p":"p","k":"gb","d":"2021-09-28","y":42.7,"t":"44,20"},
{"p":"p","k":"gb","d":"2021-07-03","y":49.3,"t":"MMS (40)"},
{"p":"p","k":"rb","d":"2021-04-17","y":32.5,"t":"MMS (200)"},
{"p":"p","k":"rb","d":"2022-04-04","y":74.7,"t":"74,40"},
{"p":"p","k":"gm","d":"2022-01-19","y":52.2,"t":"52,80"},
{"p":"p","k":"gm","d":"2022-04-02","y":55.3,"t":"55,80"},
{"p":"p","k":"mm","d":"2022-03-20","y":59.4,"t":"60,10"},
{"p":"p","k":"bm","d":"2022-03-15","y":65.5,"t":"65,80 / 65,20"},
{"p":"p","k":"wm","d":"2020-05-22","y":18.5,"t":"www.visualchart.com"},
{"p":"a","k":"nb","d":"2021-04-30","y":7.37,"t":"Rango de amplitud medio en porcentaje"},
{"p":"m","k":"nb","d":"2021-04-14","y":2.3,"t":"MACD"},
{"p":"v","k":"gl","d":"2022-02-08","y":128,"t":"MMS (20, volumen)"},
{"p":"v","k":"rl","d":"2022-02-08","y":79.7,"t":"MMS (200, volumen)"},
{"p":"v","k":"gy","d":"2022-01-10","y":-19.6,"t":"12/01/2022"}
],
"el":[{"d":"2022-01-25","y":-1.3}]
},
"vconcat":[
{
 "width":1621,"height":482,
 "title":{"text":"ROVI.MC - LABORAT.ROVI -  1 d  H: 17:29  A: 68,0  M: 68,9  m: 67,2  C: 68,4  P: 30,4  V: 104.767  F: 12-01-2022","color":"#0000ff"},
 "resolve":{"axis":{"y":"independent"}},
 "encoding":{"x":{"field":"d","type":"temporal","scale":{"type":"utc","domain":[{"year":2020,"month":3,"date":4,"utc":true},{"year":2022,"month":5,"date":17,"utc":true}]},"axis":null}},
 "layer":[
  {"data":{"name":"hl"},"transform":[{"filter":"datum.p=='p' && datum.k=='sep'"}],"mark":{"type":"rule","color":"#000000","strokeWidth":1.5},
   "encoding":{"x2":{"field":"d2"},"y":{"field":"y","type":"quantitative","scale":{"domain":[16.3,77.7],"zero":false,"nice":false},
   "axis":{"orient":"right","title":null,"labels":false,"values":[16.6667,18.3333,21.6667,23.3333,25,26.6667,28.3333,31.6667,33.3333,35,36.6667,38.3333,41.6667,43.3333,45,46.6667,48.3333,51.6667,53.3333,55,56.6667,58.3333,61.6667,63.3333,65,66.6667,68.3333,71.6667,73.3333,75,76.6667]}}}},
  {"data":{"name":"dg"},"transform":[{"filter":"datum.k=='mag'"}],"mark":{"type":"rule","color":"#ff00ff","strokeWidth":1.2},
   "encoding":{"x2":{"field":"d2"},"y":{"field":"y","type":"quantitative","scale":{"domain":[16.3,77.7],"zero":false,"nice":false},
   "axis":{"orient":"right","title":null,"domain":false,"values":[20,30,40,50,60,70]}},"y2":{"field":"y2"}}},
  {"data":{"name":"ind"},"mark":{"type":"line","color":"#ff0000","strokeWidth":3.5},
   "encoding":{"y":{"field":"a200","type":"quantitative","scale":{"domain":[16.3,77.7],"zero":false,"nice":false},"axis":null}}},
  {"data":{"name":"ind"},"mark":{"type":"line","color":"#008000","strokeWidth":3},
   "encoding":{"y":{"field":"a40","type":"quantitative","scale":{"domain":[16.3,77.7],"zero":false,"nice":false},"axis":null}}},
  {"data":{"name":"px"},"mark":{"type":"rule","color":"#0000ff","strokeWidth":1.5},
   "encoding":{"y":{"field":"l","type":"quantitative","scale":{"domain":[16.3,77.7],"zero":false,"nice":false},"axis":null},"y2":{"field":"h"}}},
  {"data":{"name":"dg"},"transform":[{"filter":"datum.k=='grey'"}],"mark":{"type":"rule","color":"#909090","strokeWidth":1.2,"strokeDash":[2,2]},
   "encoding":{"x2":{"field":"d2"},"y":{"field":"y","type":"quantitative","scale":{"domain":[16.3,77.7],"zero":false,"nice":false},"axis":null},"y2":{"field":"y2"}}},
  {"data":{"name":"hl"},"transform":[{"filter":"datum.p=='p' && datum.k=='thick'"}],"mark":{"type":"rule","color":"#0000ff","strokeWidth":2.5},
   "encoding":{"x2":{"field":"d2"},"y":{"field":"y","type":"quantitative","scale":{"domain":[16.3,77.7],"zero":false,"nice":false},"axis":null}}},
  {"data":{"name":"hl"},"transform":[{"filter":"datum.p=='p' && datum.k=='thin'"}],"mark":{"type":"rule","color":"#0000ff","strokeWidth":1.5},
   "encoding":{"x2":{"field":"d2"},"y":{"field":"y","type":"quantitative","scale":{"domain":[16.3,77.7],"zero":false,"nice":false},"axis":null}}},
  {"data":{"name":"hl"},"transform":[{"filter":"datum.p=='p' && datum.k=='dash'"}],"mark":{"type":"rule","color":"#0000ff","strokeWidth":1,"strokeDash":[4,3]},
   "encoding":{"x2":{"field":"d2"},"y":{"field":"y","type":"quantitative","scale":{"domain":[16.3,77.7],"zero":false,"nice":false},"axis":null}}},
  {"data":{"name":"tx"},"transform":[{"filter":"datum.k=='gb'"}],"mark":{"type":"text","color":"#008000","font":"Liberation Sans","fontWeight":"bold","fontSize":18,"align":"center","baseline":"middle"},
   "encoding":{"text":{"field":"t"},"y":{"field":"y","type":"quantitative","scale":{"domain":[16.3,77.7],"zero":false,"nice":false},"axis":null}}},
  {"data":{"name":"tx"},"transform":[{"filter":"datum.k=='rb'"}],"mark":{"type":"text","color":"#ff0000","font":"Liberation Sans","fontWeight":"bold","fontSize":19,"align":"center","baseline":"middle"},
   "encoding":{"text":{"field":"t"},"y":{"field":"y","type":"quantitative","scale":{"domain":[16.3,77.7],"zero":false,"nice":false},"axis":null}}},
  {"data":{"name":"tx"},"transform":[{"filter":"datum.k=='gm'"}],"mark":{"type":"text","color":"#008000","font":"Liberation Sans","fontWeight":"bold","fontSize":15,"align":"center","baseline":"middle"},
   "encoding":{"text":{"field":"t"},"y":{"field":"y","type":"quantitative","scale":{"domain":[16.3,77.7],"zero":false,"nice":false},"axis":null}}},
  {"data":{"name":"tx"},"transform":[{"filter":"datum.k=='mm'"}],"mark":{"type":"text","color":"#ff00ff","font":"Liberation Sans","fontWeight":"bold","fontSize":15,"align":"center","baseline":"middle"},
   "encoding":{"text":{"field":"t"},"y":{"field":"y","type":"quantitative","scale":{"domain":[16.3,77.7],"zero":false,"nice":false},"axis":null}}},
  {"data":{"name":"tx"},"transform":[{"filter":"datum.k=='bm'"}],"mark":{"type":"text","color":"#0000ff","font":"Liberation Sans","fontWeight":"bold","fontSize":15,"align":"center","baseline":"middle"},
   "encoding":{"text":{"field":"t"},"y":{"field":"y","type":"quantitative","scale":{"domain":[16.3,77.7],"zero":false,"nice":false},"axis":null}}},
  {"data":{"name":"tx"},"transform":[{"filter":"datum.k=='wm'"}],"mark":{"type":"text","color":"#a9b2d8","font":"Liberation Sans","fontWeight":"bold","fontSize":15,"align":"center","baseline":"middle"},
   "encoding":{"text":{"field":"t"},"y":{"field":"y","type":"quantitative","scale":{"domain":[16.3,77.7],"zero":false,"nice":false},"axis":null}}}
 ]
},
{
 "width":1621,"height":122,
 "title":{"text":"ATRPorcentaje_ROVI.MC  Line 1: 3,3347  P: 15,4548","color":"#ff0000","offset":0},
 "resolve":{"axis":{"y":"independent"}},
 "encoding":{"x":{"field":"d","type":"temporal","scale":{"type":"utc","domain":[{"year":2020,"month":3,"date":4,"utc":true},{"year":2022,"month":5,"date":17,"utc":true}]},"axis":null}},
 "layer":[
  {"data":{"name":"hl"},"transform":[{"filter":"datum.p=='a' && datum.k=='sep'"}],"mark":{"type":"rule","color":"#000000","strokeWidth":1.5},
   "encoding":{"x2":{"field":"d2"},"y":{"field":"y","type":"quantitative","scale":{"domain":[1.47,8.52],"zero":false,"nice":false},
   "axis":{"orient":"right","title":null,"labels":false,"values":[2.6667,3.3333,4.6667,5.3333,6.6667,7.3333]}}}},
  {"data":{"name":"hl"},"transform":[{"filter":"datum.p=='a' && datum.k=='band'"}],"mark":{"type":"rule","color":"#a3cbf2","strokeWidth":5},
   "encoding":{"x2":{"field":"d2"},"y":{"field":"y","type":"quantitative","scale":{"domain":[1.47,8.52],"zero":false,"nice":false},
   "axis":{"orient":"right","title":null,"domain":false,"values":[2,4,6,8]}}}},
  {"data":{"name":"hl"},"transform":[{"filter":"datum.p=='a' && datum.k=='a2'"}],"mark":{"type":"rule","color":"#0000ff","strokeWidth":2.5},
   "encoding":{"x2":{"field":"d2"},"y":{"field":"y","type":"quantitative","scale":{"domain":[1.47,8.52],"zero":false,"nice":false},"axis":null}}},
  {"data":{"name":"ind"},"mark":{"type":"line","color":"#ff0000","strokeWidth":2.5},
   "encoding":{"y":{"field":"at","type":"quantitative","scale":{"domain":[1.47,8.52],"zero":false,"nice":false},"axis":null}}},
  {"data":{"name":"ind"},"mark":{"type":"line","color":"#0000ff","strokeWidth":1.3,"strokeDash":[2,2]},
   "encoding":{"y":{"field":"as","type":"quantitative","scale":{"domain":[1.47,8.52],"zero":false,"nice":false},"axis":null}}},
  {"data":{"name":"tx"},"transform":[{"filter":"datum.p=='a'"}],"mark":{"type":"text","color":"#000080","font":"Liberation Sans","fontWeight":"bold","fontSize":18,"align":"center","baseline":"middle"},
   "encoding":{"text":{"field":"t"},"y":{"field":"y","type":"quantitative","scale":{"domain":[1.47,8.52],"zero":false,"nice":false},"axis":null}}}
 ]
},
{
 "width":1621,"height":106,
 "title":{"text":"MACD_ROVI.MC  MACD: 0,7559  MediaSIG: 1,5594  Band_MACD: 0,0000  P: 16,3617","color":"#0000ff","offset":0},
 "resolve":{"axis":{"y":"independent"}},
 "encoding":{"x":{"field":"d","type":"temporal","scale":{"type":"utc","domain":[{"year":2020,"month":3,"date":4,"utc":true},{"year":2022,"month":5,"date":17,"utc":true}]},"axis":null}},
 "layer":[
  {"data":{"name":"hl"},"transform":[{"filter":"datum.p=='m' && datum.k=='sep'"}],"mark":{"type":"rule","color":"#000000","strokeWidth":1.5},
   "encoding":{"x2":{"field":"d2"},"y":{"field":"y","type":"quantitative","scale":{"domain":[-1.85,3.45],"zero":false,"nice":false},
   "axis":{"orient":"right","title":null,"labels":false,"values":[-1.5,-1,-0.5,0.5,1,1.5,2.5,3]}}}},
  {"data":{"name":"hl"},"transform":[{"filter":"datum.p=='m' && datum.k=='zero'"}],"mark":{"type":"rule","color":"#0000ff","strokeWidth":1.2},
   "encoding":{"x2":{"field":"d2"},"y":{"field":"y","type":"quantitative","scale":{"domain":[-1.85,3.45],"zero":false,"nice":false},
   "axis":{"orient":"right","title":null,"domain":false,"values":[0,2]}}}},
  {"data":{"name":"el"},"mark":{"type":"point","shape":"M -1 0 A 1 0.52 0 1 1 1 0 A 1 0.52 0 1 1 -1 0 Z","size":841,"filled":true,"fill":"#33ccee","stroke":"#0000ff","strokeWidth":1,"opacity":1},
   "encoding":{"y":{"field":"y","type":"quantitative","scale":{"domain":[-1.85,3.45],"zero":false,"nice":false},"axis":null}}},
  {"data":{"name":"ind"},"mark":{"type":"line","color":"#ff0000","strokeWidth":2.5},
   "encoding":{"y":{"field":"mc","type":"quantitative","scale":{"domain":[-1.85,3.45],"zero":false,"nice":false},"axis":null}}},
  {"data":{"name":"ind"},"mark":{"type":"line","color":"#0000ff","strokeWidth":1.3,"strokeDash":[2,2]},
   "encoding":{"y":{"field":"sg","type":"quantitative","scale":{"domain":[-1.85,3.45],"zero":false,"nice":false},"axis":null}}},
  {"data":{"name":"tx"},"transform":[{"filter":"datum.p=='m'"}],"mark":{"type":"text","color":"#000080","font":"Liberation Sans","fontWeight":"bold","fontSize":18,"align":"center","baseline":"middle"},
   "encoding":{"text":{"field":"t"},"y":{"field":"y","type":"quantitative","scale":{"domain":[-1.85,3.45],"zero":false,"nice":false},"axis":null}}}
 ]
},
{
 "width":1621,"height":99,
 "title":{"text":"Vol_ROVI.MC  Vol: 104.767  P: 1.028.988","color":"#0000ff","offset":0},
 "resolve":{"axis":{"y":"independent"}},
 "encoding":{"x":{"field":"d","type":"temporal","scale":{"type":"utc","domain":[{"year":2020,"month":3,"date":4,"utc":true},{"year":2022,"month":5,"date":17,"utc":true}]}}},
 "layer":[
  {"data":{"name":"px"},"mark":{"type":"bar","color":"#0000ff","size":2,"clip":true},
   "encoding":{
    "x":{"field":"d","type":"temporal","scale":{"type":"utc","domain":[{"year":2020,"month":3,"date":4,"utc":true},{"year":2022,"month":5,"date":17,"utc":true}]},
     "axis":{"title":null,"grid":false,"domainColor":"#0000ff","domainWidth":1.5,"tickColor":"#0000ff","tickSize":9,"labelColor":"#0000ff","labelFont":"DejaVu Sans","labelFontWeight":"bold","labelFontSize":12,"labelAlign":"left","labelBaseline":"top","labelPadding":-2,"labelFlush":false,"labelOverlap":false,
     "values":[{"year":2020,"month":4,"date":1,"utc":true},{"year":2020,"month":7,"date":1,"utc":true},{"year":2020,"month":10,"date":1,"utc":true},{"year":2021,"month":1,"date":1,"utc":true},{"year":2021,"month":4,"date":1,"utc":true},{"year":2021,"month":7,"date":1,"utc":true},{"year":2021,"month":10,"date":1,"utc":true},{"year":2021,"month":12,"date":31,"utc":true},{"year":2022,"month":4,"date":1,"utc":true}],
     "labelExpr":"utcmonth(datum.value)==11 ? '' : '01-' + (utcmonth(datum.value)==0 ? 'Ene' : utcmonth(datum.value)==3 ? 'Abr' : utcmonth(datum.value)==6 ? 'Jul' : 'Oct') + '-' + utcFormat(datum.value, '%y')"}},
    "y":{"field":"v","type":"quantitative","scale":{"domain":[10,219],"zero":false,"nice":false},
     "axis":{"orient":"right","title":null,"labels":false,"values":[25,50,75,125,150,175]}}}},
  {"data":{"name":"ind"},"mark":{"type":"line","color":"#008000","strokeWidth":3,"clip":true},
   "encoding":{"y":{"field":"v20","type":"quantitative","scale":{"domain":[10,219],"zero":false,"nice":false},
    "axis":{"orient":"right","title":null,"domain":false,"values":[100,200],"labelExpr":"datum.value + '.000'"}}}},
  {"data":{"name":"ind"},"mark":{"type":"line","color":"#ff0000","strokeWidth":3,"clip":true},
   "encoding":{"y":{"field":"v200","type":"quantitative","scale":{"domain":[10,219],"zero":false,"nice":false},"axis":null}}},
  {"data":{"name":"tx"},"transform":[{"filter":"datum.k=='gl'"}],"mark":{"type":"text","color":"#008000","font":"Liberation Sans","fontWeight":"bold","fontSize":19,"align":"left","baseline":"middle"},
   "encoding":{"text":{"field":"t"},"y":{"field":"y","type":"quantitative","scale":{"domain":[10,219],"zero":false,"nice":false},"axis":null}}},
  {"data":{"name":"tx"},"transform":[{"filter":"datum.k=='rl'"}],"mark":{"type":"text","color":"#ff0000","font":"Liberation Sans","fontWeight":"bold","fontSize":19,"align":"left","baseline":"middle"},
   "encoding":{"text":{"field":"t"},"y":{"field":"y","type":"quantitative","scale":{"domain":[10,219],"zero":false,"nice":false},"axis":null}}},
  {"data":{"name":"tx"},"transform":[{"filter":"datum.k=='gy'"}],"mark":{"type":"text","color":"#666666","font":"DejaVu Sans","fontWeight":"bold","fontSize":12,"align":"center","baseline":"middle"},
   "encoding":{"text":{"field":"t"},"y":{"field":"y","type":"quantitative","scale":{"domain":[10,219],"zero":false,"nice":false},"axis":null}}}
 ]
}
]
}
